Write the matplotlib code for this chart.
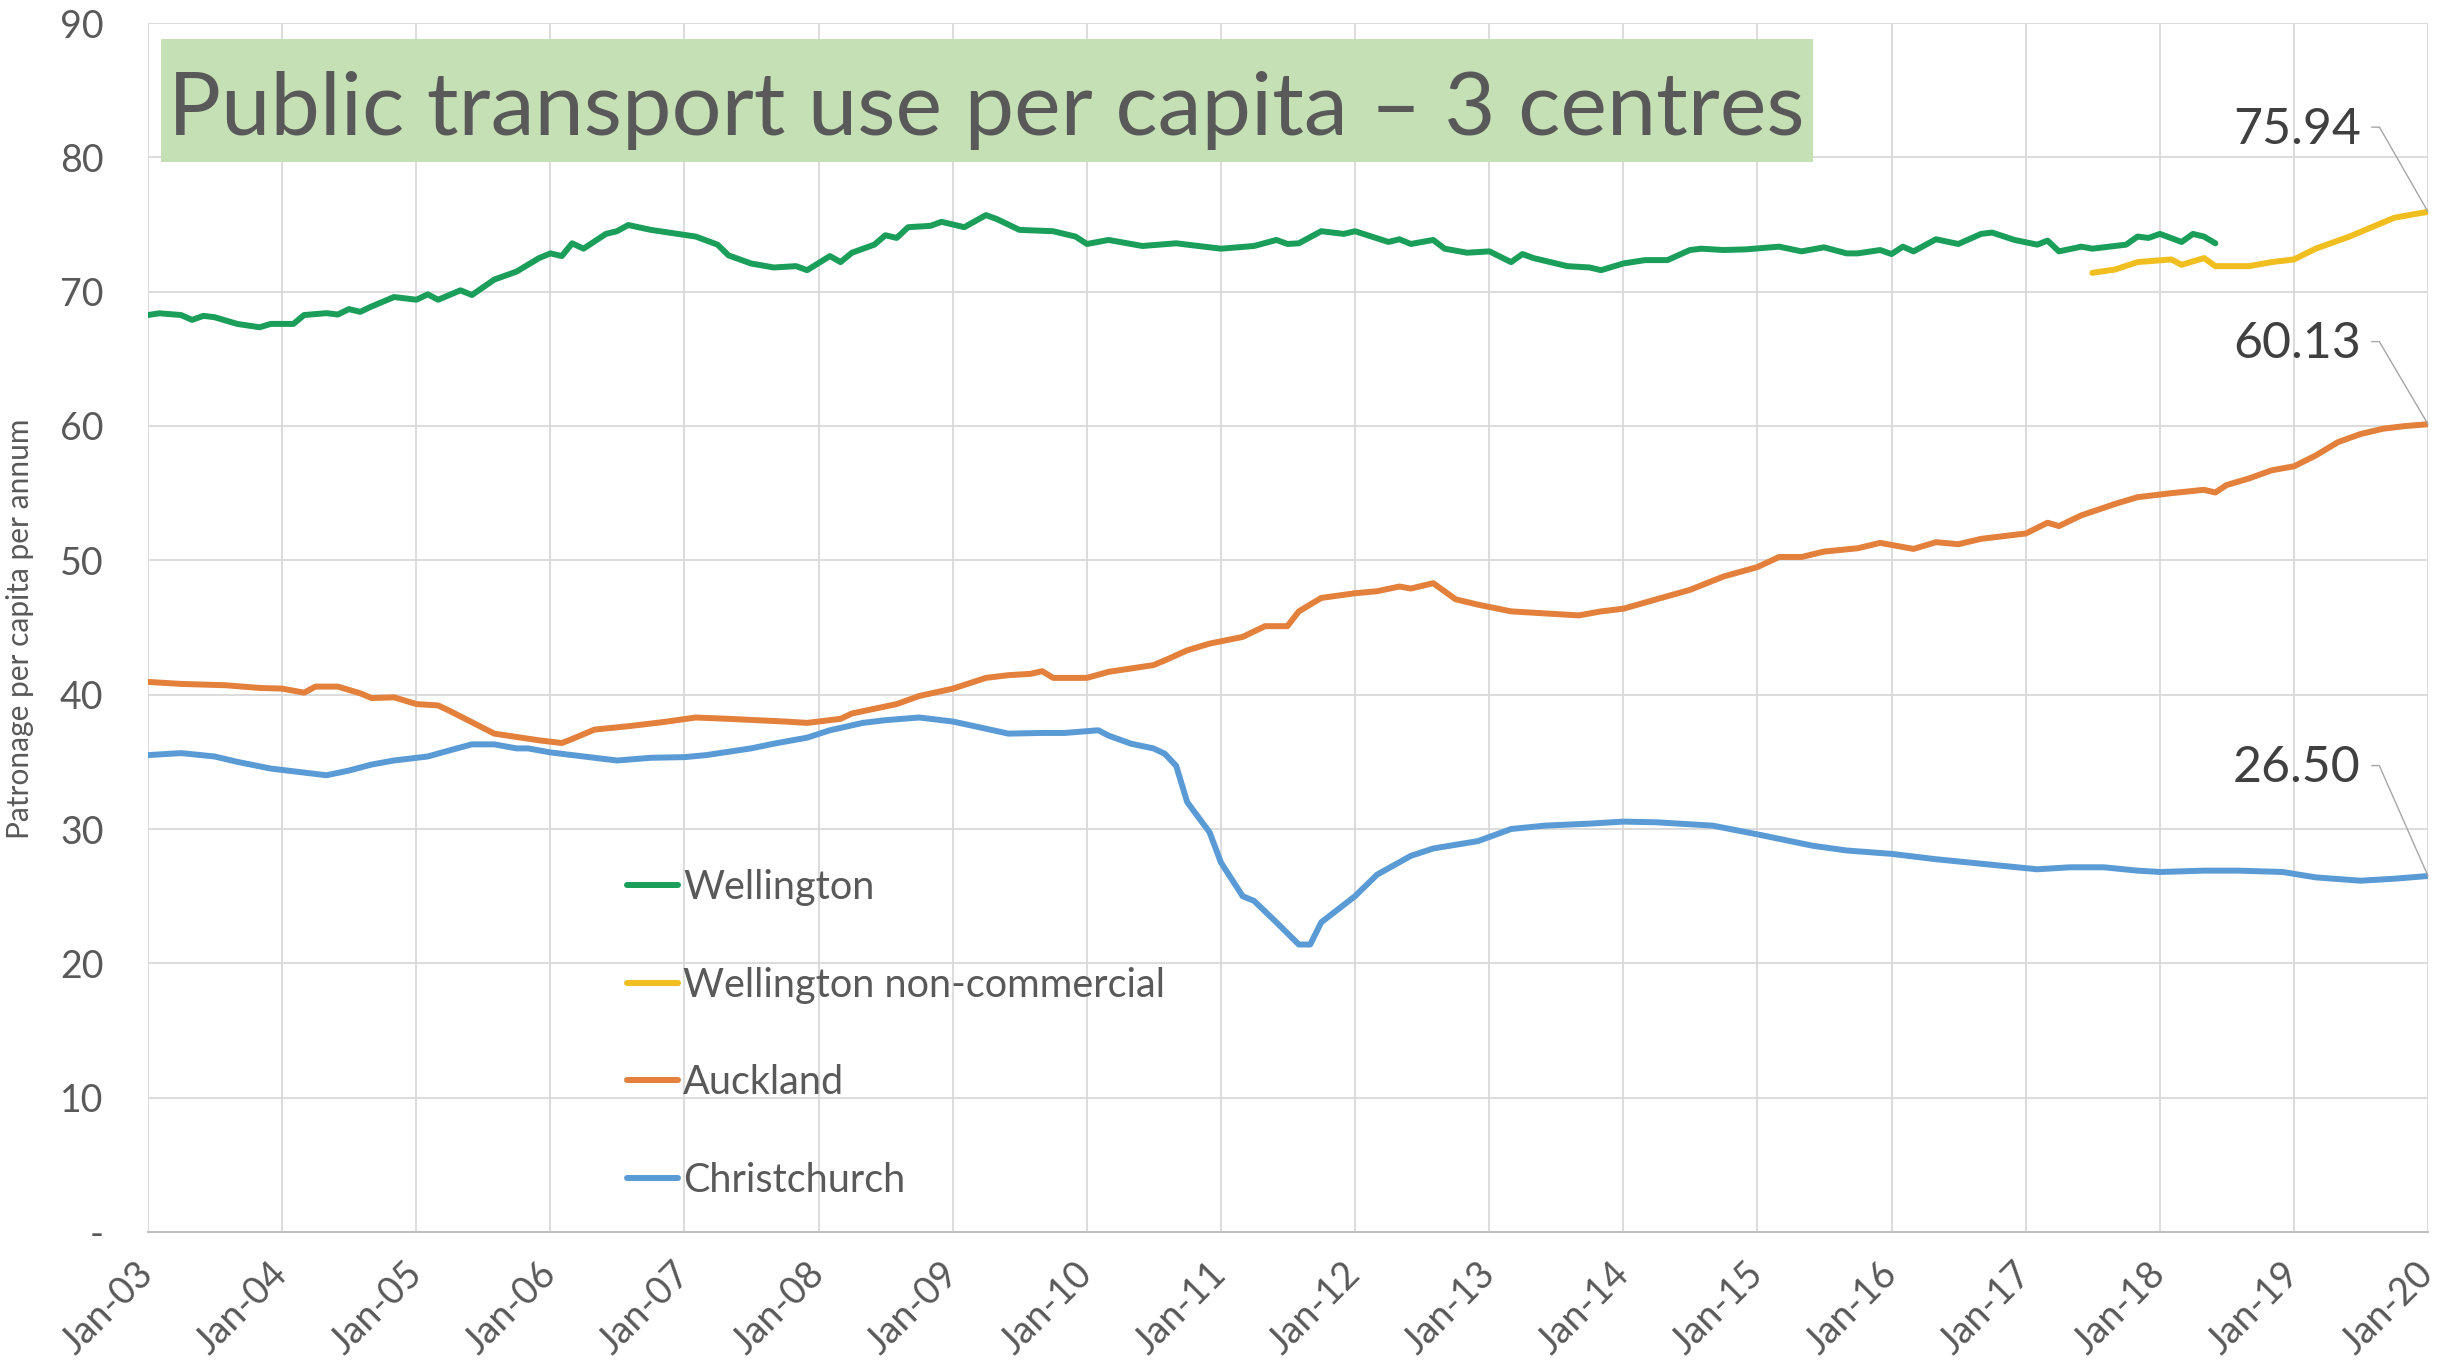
import numpy as np
import matplotlib.pyplot as plt
from matplotlib.patches import Rectangle

plt.rcParams['font.family'] = ['Lato', 'DejaVu Sans']

# months counted from Jan-2003
wlg_months = [0, 1, 3, 4, 5, 6, 8, 10, 11, 13, 14, 16, 17, 18, 19, 20, 22, 24, 25, 26,
              28, 29, 31, 33, 35, 36, 37, 38, 39, 41, 42, 43, 45, 49, 51, 52, 54, 56, 58, 59,
              61, 62, 63, 65, 66, 67, 68, 70, 71, 73, 75, 76, 78, 81, 83, 84, 86, 89, 92, 93,
              96, 99, 101, 102, 103, 105, 107, 108, 111, 112, 113, 115, 116, 118, 120, 122, 123, 124, 127, 129,
              130, 132, 134, 136, 138, 139, 141, 143, 146, 148, 150, 152, 153, 155, 156, 157, 158, 160, 162, 164,
              165, 167, 169, 170, 171, 173, 174, 177, 178, 179, 180, 182, 183, 184, 185]
wlg_values = [68.26, 68.39, 68.26, 67.9, 68.2, 68.1, 67.6, 67.35, 67.6, 67.6, 68.26, 68.4, 68.3, 68.7, 68.5, 68.9, 69.6, 69.4, 69.8, 69.4,
              70.1, 69.75, 70.9, 71.5, 72.5, 72.85, 72.65, 73.6, 73.2, 74.3, 74.5, 74.96, 74.6, 74.1, 73.5, 72.7, 72.1, 71.8, 71.9, 71.6,
              72.65, 72.2, 72.9, 73.5, 74.2, 74.0, 74.8, 74.9, 75.2, 74.8, 75.7, 75.4, 74.6, 74.5, 74.1, 73.55, 73.85, 73.4, 73.6, 73.5,
              73.2, 73.4, 73.85, 73.55, 73.6, 74.5, 74.3, 74.5, 73.7, 73.9, 73.55, 73.85, 73.2, 72.9, 73.0, 72.2, 72.8, 72.5, 71.9, 71.8,
              71.6, 72.1, 72.35, 72.35, 73.1, 73.2, 73.1, 73.15, 73.35, 73.0, 73.3, 72.85, 72.85, 73.1, 72.8, 73.35, 73.0, 73.9, 73.55, 74.3,
              74.4, 73.85, 73.5, 73.8, 73.0, 73.35, 73.2, 73.5, 74.1, 74.0, 74.3, 73.7, 74.3, 74.1, 73.6]

wnc_months = [174, 176, 178, 181, 182, 184, 185, 188, 190, 192, 194, 197, 199, 201, 203, 204]
wnc_values = [71.4, 71.65, 72.2, 72.4, 72.0, 72.5, 71.9, 71.9, 72.2, 72.4, 73.2, 74.1, 74.8, 75.5, 75.8, 75.94]

akl_months = [0, 3, 7, 10, 12, 14, 15, 17, 19, 20, 22, 24, 26, 27, 29, 31, 33, 35, 37, 38,
              40, 43, 46, 49, 52, 57, 59, 62, 63, 67, 69, 72, 75, 77, 79, 80, 81, 84, 86, 90,
              91, 93, 95, 98, 100, 102, 103, 105, 108, 110, 112, 113, 115, 117, 119, 122, 124, 128, 130, 132,
              135, 138, 141, 144, 146, 148, 150, 153, 155, 158, 160, 162, 164, 168, 170, 171, 173, 176, 178, 181,
              184, 185, 186, 188, 190, 192, 194, 196, 198, 200, 202, 204]
akl_values = [40.95, 40.8, 40.7, 40.5, 40.45, 40.15, 40.6, 40.6, 40.1, 39.75, 39.8, 39.3, 39.2, 38.8, 37.95, 37.1, 36.85, 36.6, 36.4, 36.7,
              37.4, 37.65, 37.95, 38.3, 38.2, 38.0, 37.9, 38.2, 38.6, 39.3, 39.9, 40.45, 41.25, 41.45, 41.55, 41.75, 41.25, 41.25, 41.7, 42.2,
              42.55, 43.3, 43.8, 44.3, 45.1, 45.1, 46.2, 47.2, 47.55, 47.7, 48.05, 47.9, 48.3, 47.1, 46.7, 46.2, 46.1, 45.9, 46.2, 46.4,
              47.1, 47.8, 48.8, 49.5, 50.25, 50.25, 50.65, 50.9, 51.3, 50.85, 51.35, 51.2, 51.6, 52.0, 52.8, 52.55, 53.35, 54.2, 54.7, 55.0,
              55.25, 55.05, 55.6, 56.1, 56.7, 57.0, 57.8, 58.8, 59.4, 59.8, 60.0, 60.13]

chc_months = [0, 3, 6, 8, 11, 14, 16, 18, 20, 22, 25, 27, 29, 31, 33, 34, 36, 40, 42, 45,
              48, 50, 54, 56, 59, 61, 64, 66, 69, 72, 74, 77, 80, 82, 85, 86, 88, 90, 91, 92,
              93, 95, 96, 98, 99, 101, 103, 104, 105, 108, 110, 113, 115, 119, 122, 125, 129, 132, 135, 140,
              144, 149, 152, 156, 160, 163, 166, 169, 172, 175, 178, 180, 184, 187, 191, 194, 198, 201, 204]
chc_values = [35.5, 35.65, 35.4, 35.0, 34.5, 34.2, 34.0, 34.35, 34.8, 35.1, 35.4, 35.85, 36.3, 36.3, 36.0, 36.0, 35.7, 35.3, 35.1, 35.3,
              35.35, 35.5, 36.0, 36.35, 36.8, 37.35, 37.9, 38.1, 38.3, 38.0, 37.65, 37.1, 37.15, 37.15, 37.35, 36.95, 36.35, 36.0, 35.6, 34.7,
              32.0, 29.75, 27.5, 25.0, 24.65, 23.05, 21.4, 21.4, 23.05, 25.0, 26.6, 28.0, 28.55, 29.1, 30.0, 30.25, 30.4, 30.55, 30.5, 30.25,
              29.6, 28.75, 28.4, 28.15, 27.75, 27.5, 27.25, 27.0, 27.15, 27.15, 26.9, 26.8, 26.9, 26.9, 26.8, 26.4, 26.15, 26.3, 26.5]

series_names = ['Wellington', 'Wellington non-commercial', 'Auckland', 'Christchurch']
series_colors = ['#1b9e5a', '#f0be1e', '#e2803c', '#5b9bd5']

x_labels = ['Jan-03', 'Jan-04', 'Jan-05', 'Jan-06', 'Jan-07', 'Jan-08', 'Jan-09', 'Jan-10', 'Jan-11',
            'Jan-12', 'Jan-13', 'Jan-14', 'Jan-15', 'Jan-16', 'Jan-17', 'Jan-18', 'Jan-19', 'Jan-20']
y_ticks = [0, 10, 20, 30, 40, 50, 60, 70, 80, 90]
y_labels = ['-', '10', '20', '30', '40', '50', '60', '70', '80', '90']

start = np.datetime64('2003-01', 'M')

def to_dates(months):
    return start + np.array(months)

W, H = 2445, 1368
fig = plt.figure(figsize=(W / 100, H / 100), dpi=100)
ax = fig.add_axes([148 / W, 1 - 1232 / H, 2280 / W, 1209 / H])

all_data = [(wlg_months, wlg_values), (wnc_months, wnc_values),
            (akl_months, akl_values), (chc_months, chc_values)]
for (m, v), name, col in zip(all_data, series_names, series_colors):
    ax.plot(to_dates(m), v, color=col, lw=4.3, label=name, solid_capstyle='round', zorder=3)

ax.set_xlim(start, start + 204)
ax.set_ylim(0, 90)
ax.set_xticks(to_dates(np.arange(0, 205, 12)))
ax.set_xticklabels(x_labels, rotation=45, ha='right', va='center', rotation_mode='anchor')
ax.set_yticks(y_ticks)
ax.set_yticklabels(y_labels)
ax.tick_params(axis='both', length=0, labelsize=27, labelcolor='#595959')
ax.tick_params(axis='y', pad=32)
ax.tick_params(axis='x', pad=26)

ax.grid(True, color='#d9d9d9', lw=1.3)
ax.set_axisbelow(True)
for side in ['top', 'right', 'left']:
    ax.spines[side].set_visible(False)
ax.spines['bottom'].set_color('#bfbfbf')
ax.spines['bottom'].set_linewidth(1.5)

# end-point data labels with leader lines (Wellington has none)
label_dy = [None, 59, 57.5, 77.5]
for (m, v), dy in zip(all_data, label_dy):
    if dy is None:
        continue
    xe = to_dates(m)[-1]
    ye = v[-1]
    ax.annotate(f'{ye:.2f}', xy=(xe, ye), xytext=(-48.4, dy), textcoords='offset points',
                ha='right', va='center', fontsize=36, color='#404040', zorder=5)
    ang = np.degrees(np.arctan2(dy + 2.0, -35.0))
    ax.annotate('', xy=(xe, ye), xytext=(-40.5, dy + 2.0), textcoords='offset points',
                arrowprops=dict(arrowstyle='-', color='#a6a6a6', lw=1.0, shrinkA=0, shrinkB=0,
                                connectionstyle=f'angle,angleA=0,angleB={ang:.1f},rad=0'))

leg = ax.legend(loc='upper left', bbox_to_anchor=(627 / W, 1 - 869 / H), bbox_transform=fig.transFigure,
                frameon=False, fontsize=28.5, handlelength=1.3, handletextpad=0.12,
                labelspacing=1.53, borderpad=0, borderaxespad=0)
for t in leg.get_texts():
    t.set_color('#595959')

# title box
fig.patches.append(Rectangle((161 / W, 1 - 162 / H), 1652 / W, 123 / H, transform=fig.transFigure,
                             facecolor='#c5e0b4', edgecolor='none', zorder=4))
fig.text(168 / W, 1 - 135 / H, 'Public transport use per capita \u2013 3 centres',
         fontsize=63.5, color='#595959', ha='left', va='baseline', zorder=6)

fig.text(20 / W, 1 - 629 / H, 'Patronage per capita per annum', rotation=90,
         ha='center', va='center', fontsize=21.5, color='#595959')

fig.savefig('out.png', dpi=100, facecolor='white')
